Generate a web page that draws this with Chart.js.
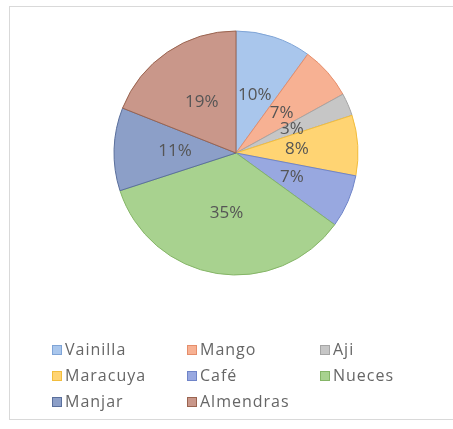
<!DOCTYPE html>
<html>
<head>
<meta charset="utf-8">
<script src="https://cdn.jsdelivr.net/npm/chart.js@4"></script>
<style>
  html, body { margin: 0; padding: 0; background: #fff; }
  #marco {
    position: absolute; left: 9px; top: 6px; width: 460px; height: 414px;
    border: 1px solid #d9d9d9; box-sizing: border-box;
  }
  #lienzo { position: absolute; left: 0; top: 0; width: 453px; height: 429px; }
  #leyenda { position: absolute; left: 0; top: 0; font-family: "Open Sans", sans-serif; font-size: 16px; color: #666; }
  .item { position: absolute; height: 20px; line-height: 20px; white-space: nowrap; letter-spacing: 1px; }
  .caja { display: inline-block; width: 8px; height: 8px; border: 1px solid; margin-right: 3px; vertical-align: 0px; }
</style>
</head>
<body>
<div id="marco"></div>
<div id="lienzo"><canvas id="grafica" width="453" height="429"></canvas></div>
<div id="leyenda"></div>
<script>
// Sabores y porcentaje de preferencia
const sabores = ["Vainilla", "Mango", "Aji", "Maracuya", "Café", "Nueces", "Manjar", "Almendras"];
const porcentajes = [10, 7, 3, 8, 7, 35, 11, 19];

const colores = ["#a9c6ec", "#f7b193", "#c6c6c6", "#ffd473", "#98a8e0", "#a8d28f", "#8c9fc8", "#c9978a"];
const bordes  = ["#7fa4d6", "#e58d6a", "#a5a5a5", "#f2bd3c", "#6f84c8", "#85b567", "#5a6f9c", "#9a6450"];

// Etiquetas de porcentaje en el centro de cada porción
const etiquetas = {
  id: 'etiquetas',
  afterDatasetsDraw(chart) {
    const ctx = chart.ctx;
    const meta = chart.getDatasetMeta(0);
    ctx.save();
    ctx.font = '17px "Open Sans", sans-serif';
    ctx.fillStyle = '#555';
    ctx.textAlign = 'center';
    ctx.textBaseline = 'middle';
    meta.data.forEach((arco, i) => {
      const pos = arco.tooltipPosition();
      ctx.fillText(porcentajes[i] + '%', pos.x, pos.y);
    });
    ctx.restore();
  }
};

const grafica = new Chart(document.getElementById('grafica'), {
  type: 'pie',
  data: {
    labels: sabores,
    datasets: [{
      data: porcentajes,
      backgroundColor: colores,
      borderColor: bordes,
      borderWidth: 1,
      hoverOffset: 0,
      radius: 122
    }]
  },
  options: {
    responsive: false,
    animation: false,
    layout: { padding: { left: 114, right: 95, top: 31, bottom: 154 } },
    plugins: {
      legend: { display: false },
      tooltip: { enabled: false }
    }
  },
  plugins: [etiquetas]
});

// Leyenda en tres columnas
const columnas = [52, 187, 320];
const filas = [349, 375, 401];
const leyenda = document.getElementById('leyenda');
sabores.forEach((s, i) => {
  const d = document.createElement('div');
  d.className = 'item';
  d.style.left = columnas[i % 3] + 'px';
  d.style.top = (filas[Math.floor(i / 3)] - 10) + 'px';
  d.innerHTML = `<span class="caja" style="background:${colores[i]};border-color:${bordes[i]}"></span>${s}`;
  leyenda.appendChild(d);
});
</script>
</body>
</html>
